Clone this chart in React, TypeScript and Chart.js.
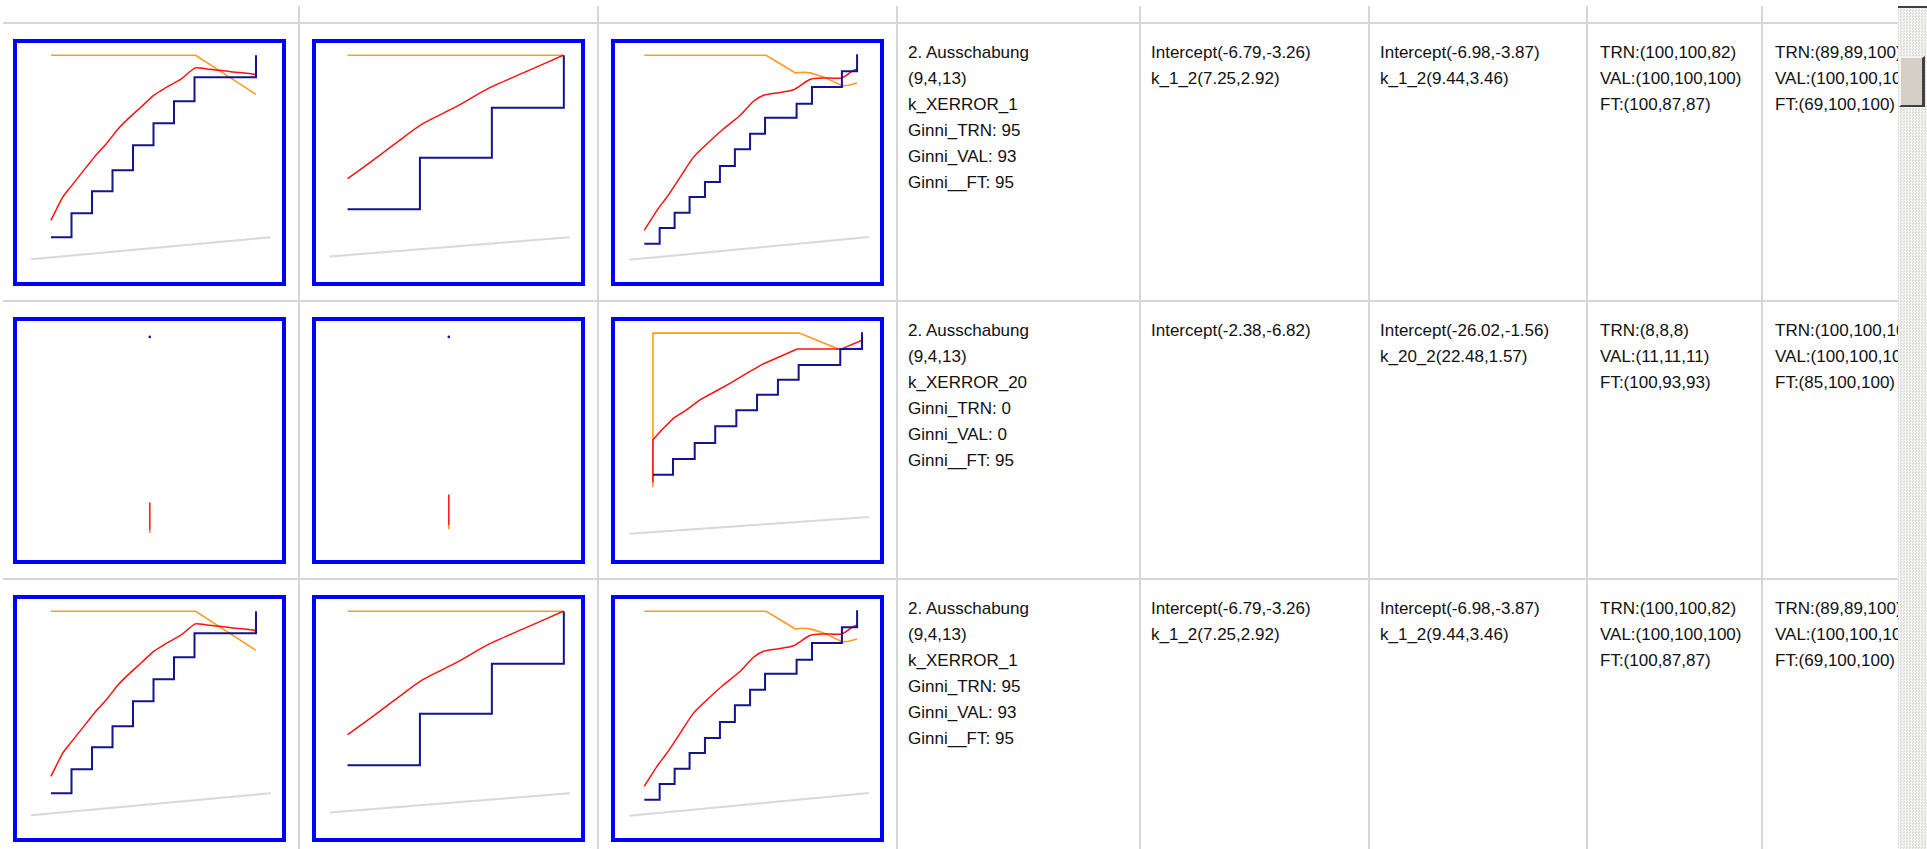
import React, { useEffect, useRef } from "react";
import { Chart, registerables } from "chart.js";

Chart.register(...registerables);

// ---------- DATA ----------
// Model k_XERROR_1 (rows 1 and 3), three mini charts
const C1_BLUE_X = [0, 10, 20, 30, 40, 50, 60, 70, 100];
const C1_BLUE_Y = [9, 21, 32, 42.5, 55, 66, 77, 89, 100];
const C1_RED_X = [0, 5.8, 9.6, 15.4, 21.2, 27, 32.8, 38.6, 44.3, 50.1, 56, 63.7, 70.4, 75.2, 82, 88.7, 99.3, 99.9];
const C1_RED_Y = [17.5, 29.2, 34.2, 41.7, 49.2, 55.8, 63.3, 69.2, 74.5, 80, 83.8, 88.3, 93.7, 93.3, 92.5, 91.7, 90.5, 89.5];
const C1_ORANGE_X = [0, 70.6, 100];
const C1_ORANGE_Y = [100, 100, 80.5];
const C1_GRAY_X = [-9.7, 107.2];
const C1_GRAY_Y = [-2, 9];

const C2_BLUE_X = [-1.2, 34.1, 69.2, 104.3];
const C2_BLUE_Y = [23, 48.8, 73.8, 100];
const C2_RED_X = [-1.2, 7.5, 22, 35.5, 50.9, 68.2, 85.6, 104];
const C2_RED_Y = [38.3, 44.7, 55.8, 65.8, 73.8, 83.8, 91.7, 100];
const C2_ORANGE_X = [-1.2, 104];
const C2_ORANGE_Y = [100, 100];
const C2_GRAY_X = [-9.9, 107.2];
const C2_GRAY_Y = [-0.6, 9];

const C3_BLUE_X = [-2.3, 5.2, 12.5, 19.8, 27.3, 34.6, 41.9, 49.3, 56.6, 72, 79.5, 94.1, 101.5];
const C3_BLUE_Y = [5.8, 13.7, 21.3, 29.2, 36.7, 44.7, 53, 60.8, 68.8, 75.8, 84.2, 92, 100.5];
const C3_RED_X = [-2.3, 3.9, 8.8, 15.3, 21.8, 28.3, 36.4, 44.5, 51, 55.9, 62.4, 70.5, 78.7, 85.2, 94.1, 99.8, 101.5];
const C3_RED_Y = [12.5, 22.5, 29.2, 39.2, 49.2, 55.8, 63.3, 70, 77, 80, 81.2, 82.8, 88, 88.7, 88.7, 92.5, 93];
const C3_ORANGE_X = [-2.3, 57.1, 64, 71.4, 75.4, 78.7, 85.2, 94.4, 97.4, 101.5];
const C3_ORANGE_Y = [100, 100, 95.8, 91.2, 91.5, 91.2, 89.2, 84.7, 85, 86.2];
const C3_GRAY_X = [-9.6, 107.3];
const C3_GRAY_Y = [-2.2, 9.2];

// Model k_XERROR_20 (row 2)
const D1_BLUE_X = [48.2];
const D1_BLUE_Y = [100];
const D1_RED_X = [48.2, 48.2];
const D1_RED_Y = [0.15, 14.3];
const D1_ORANGE_X = [48.2, 48.2];
const D1_ORANGE_Y = [-1.5, 0.15];

const D2_BLUE_X = [48.2];
const D2_BLUE_Y = [100];
const D2_RED_X = [48.2, 48.2];
const D2_RED_Y = [2.6, 18.5];
const D2_ORANGE_X = [48.2, 48.2];
const D2_ORANGE_Y = [0.5, 2.6];

const D3_BLUE_X = [1.9, 11.7, 22.3, 32.3, 42.6, 52.7, 62.9, 73, 93.3, 103.9];
const D3_BLUE_Y = [29.3, 37.1, 45.1, 53.5, 61.5, 69.3, 76.8, 84.1, 92.1, 100.5];
const D3_RED_X = [1.9, 1.9, 6.3, 12, 18.5, 25, 32.3, 39.7, 47.8, 55.9, 64, 72.2, 93.7, 103.9];
const D3_RED_Y = [25.5, 46.8, 51.8, 57.6, 61.8, 66.8, 70.9, 75.1, 80.1, 84.8, 88.4, 92.1, 92.1, 96.5];
const D3_ORANGE_X = [1.9, 1.9, 73.3, 92.5, 103.9];
const D3_ORANGE_Y = [23, 100.1, 100.1, 92.1, 92.5];
const D3_GRAY_X = [-9.6, 107.3];
const D3_GRAY_Y = [-0.2, 8.1];

// Text columns
const DESC_1 = ["2. Ausschabung", "(9,4,13)", "k_XERROR_1", "Ginni_TRN: 95", "Ginni_VAL: 93", "Ginni__FT: 95"];
const COEF_A_1 = ["Intercept(-6.79,-3.26)", "k_1_2(7.25,2.92)"];
const COEF_B_1 = ["Intercept(-6.98,-3.87)", "k_1_2(9.44,3.46)"];
const SCORE_A_1 = ["TRN:(100,100,82)", "VAL:(100,100,100)", "FT:(100,87,87)"];
const SCORE_B_1 = ["TRN:(89,89,100)", "VAL:(100,100,100)", "FT:(69,100,100)"];

const DESC_2 = ["2. Ausschabung", "(9,4,13)", "k_XERROR_20", "Ginni_TRN: 0", "Ginni_VAL: 0", "Ginni__FT: 95"];
const COEF_A_2 = ["Intercept(-2.38,-6.82)"];
const COEF_B_2 = ["Intercept(-26.02,-1.56)", "k_20_2(22.48,1.57)"];
const SCORE_A_2 = ["TRN:(8,8,8)", "VAL:(11,11,11)", "FT:(100,93,93)"];
const SCORE_B_2 = ["TRN:(100,100,100)", "VAL:(100,100,100)", "FT:(85,100,100)"];

// ---------- STYLE / LAYOUT ----------
const NAVY = "#14148c";
const RED = "#ff1010";
const ORANGE = "#ff9c1c";
const GRAY = "#d9d9d9";
const GRID = "#d6d6d6";

const X_MIN = -16.585;
const X_MAX = 112.68;
const Y_MIN = -13.35;
const Y_MAX = 106.15;

const COL_LINES = [298, 597, 896, 1139, 1368, 1586, 1761];
const ROW_LINES = [22, 300, 578];
const BOX_LEFTS = [13, 312, 611];
const TEXT_LEFTS = [908, 1151, 1380, 1600, 1775];

type S = { x: number[]; y: number[] };
type Spec = { blue: S; red: S; orange: S; gray?: S };

const ser = (x: number[], y: number[]): S => ({ x, y });

const CHART_A: Spec[] = [
  { blue: ser(C1_BLUE_X, C1_BLUE_Y), red: ser(C1_RED_X, C1_RED_Y), orange: ser(C1_ORANGE_X, C1_ORANGE_Y), gray: ser(C1_GRAY_X, C1_GRAY_Y) },
  { blue: ser(C2_BLUE_X, C2_BLUE_Y), red: ser(C2_RED_X, C2_RED_Y), orange: ser(C2_ORANGE_X, C2_ORANGE_Y), gray: ser(C2_GRAY_X, C2_GRAY_Y) },
  { blue: ser(C3_BLUE_X, C3_BLUE_Y), red: ser(C3_RED_X, C3_RED_Y), orange: ser(C3_ORANGE_X, C3_ORANGE_Y), gray: ser(C3_GRAY_X, C3_GRAY_Y) },
];
const CHART_B: Spec[] = [
  { blue: ser(D1_BLUE_X, D1_BLUE_Y), red: ser(D1_RED_X, D1_RED_Y), orange: ser(D1_ORANGE_X, D1_ORANGE_Y) },
  { blue: ser(D2_BLUE_X, D2_BLUE_Y), red: ser(D2_RED_X, D2_RED_Y), orange: ser(D2_ORANGE_X, D2_ORANGE_Y) },
  { blue: ser(D3_BLUE_X, D3_BLUE_Y), red: ser(D3_RED_X, D3_RED_Y), orange: ser(D3_ORANGE_X, D3_ORANGE_Y), gray: ser(D3_GRAY_X, D3_GRAY_Y) },
];

const ROWS = [
  { charts: CHART_A, texts: [DESC_1, COEF_A_1, COEF_B_1, SCORE_A_1, SCORE_B_1] },
  { charts: CHART_B, texts: [DESC_2, COEF_A_2, COEF_B_2, SCORE_A_2, SCORE_B_2] },
  { charts: CHART_A, texts: [DESC_1, COEF_A_1, COEF_B_1, SCORE_A_1, SCORE_B_1] },
];

const pts = (s: S) => s.x.map((x, i) => ({ x, y: s.y[i] }));

function MiniChart({ spec, left, top }: { spec: Spec; left: number; top: number }) {
  const ref = useRef<HTMLCanvasElement>(null);
  useEffect(() => {
    if (!ref.current) return;
    const single = spec.blue.x.length === 1;
    const smoothRed = spec.red.x.length > 2 && spec.red.x[0] !== spec.red.x[1];
    const datasets: any[] = [
      {
        data: pts(spec.blue),
        borderColor: NAVY,
        backgroundColor: NAVY,
        borderWidth: 2,
        stepped: single ? false : "before",
        pointRadius: single ? 1.3 : 0,
        pointBorderWidth: 0,
        pointBackgroundColor: NAVY,
      },
      { data: pts(spec.red), borderColor: RED, borderWidth: 1.5, pointRadius: 0, tension: smoothRed ? 0.25 : 0 },
      { data: pts(spec.orange), borderColor: ORANGE, borderWidth: 1.6, pointRadius: 0 },
    ];
    if (spec.gray) datasets.push({ data: pts(spec.gray), borderColor: GRAY, borderWidth: 2, pointRadius: 0 });
    const chart = new Chart(ref.current, {
      type: "line",
      data: { datasets },
      options: {
        responsive: false,
        animation: false,
        devicePixelRatio: 1,
        events: [],
        layout: { padding: 0 },
        elements: { line: { fill: false } },
        plugins: { legend: { display: false }, tooltip: { enabled: false } },
        scales: {
          x: { type: "linear", min: X_MIN, max: X_MAX, display: false },
          y: { type: "linear", min: Y_MIN, max: Y_MAX, display: false },
        },
      },
    });
    return () => chart.destroy();
  }, [spec]);
  return (
    <div
      style={{
        position: "absolute",
        left,
        top,
        width: 273,
        height: 247,
        boxSizing: "border-box",
        border: "4px solid #0000ff",
        background: "#fff",
      }}
    >
      <canvas ref={ref} width={265} height={239} style={{ display: "block" }} />
    </div>
  );
}

export default function App() {
  return (
    <div
      style={{
        position: "fixed",
        left: 0,
        top: 0,
        width: 1927,
        height: 849,
        overflow: "hidden",
        background: "#fff",
        fontFamily: '"Liberation Sans", Arial, sans-serif',
        fontSize: 17,
        color: "#111",
      }}
    >
      {ROW_LINES.map((y, i) => (
        <div key={"h" + i} style={{ position: "absolute", left: 3, top: y, width: 1895, height: 2, background: GRID }} />
      ))}
      {COL_LINES.map((x, i) => (
        <div key={"v" + i} style={{ position: "absolute", left: x, top: 6, width: 2, height: 843, background: GRID }} />
      ))}
      {ROWS.map((row, r) => {
        const lineCenter = ROW_LINES[r] + 1;
        return (
          <React.Fragment key={"r" + r}>
            {row.charts.map((spec, c) => (
              <MiniChart key={"c" + c} spec={spec} left={BOX_LEFTS[c]} top={lineCenter + 16} />
            ))}
            {row.texts.map((lines, t) => (
              <div
                key={"t" + t}
                style={{
                  position: "absolute",
                  left: TEXT_LEFTS[t],
                  top: lineCenter + 17,
                  lineHeight: "26px",
                  whiteSpace: "nowrap",
                }}
              >
                {lines.map((l, k) => (
                  <div key={k}>{l}</div>
                ))}
              </div>
            ))}
          </React.Fragment>
        );
      })}
      {/* scrollbar */}
      <div
        style={{
          position: "absolute",
          left: 1898,
          top: 6,
          width: 29,
          height: 843,
          background: "repeating-conic-gradient(#f6f6f4 0 25%, #dedcd8 0 50%) 0 0/3px 3px",
        }}
      />
      <div style={{ position: "absolute", left: 1898, top: 6, width: 29, height: 2, background: "#404040" }} />
      <div
        style={{
          position: "absolute",
          left: 1899,
          top: 56,
          width: 26,
          height: 51,
          boxSizing: "border-box",
          background: "#d4d0c8",
          borderTop: "2px solid #f4f4f0",
          borderLeft: "2px solid #f4f4f0",
          borderRight: "3px solid #404040",
          borderBottom: "2px solid #404040",
        }}
      />
    </div>
  );
}
